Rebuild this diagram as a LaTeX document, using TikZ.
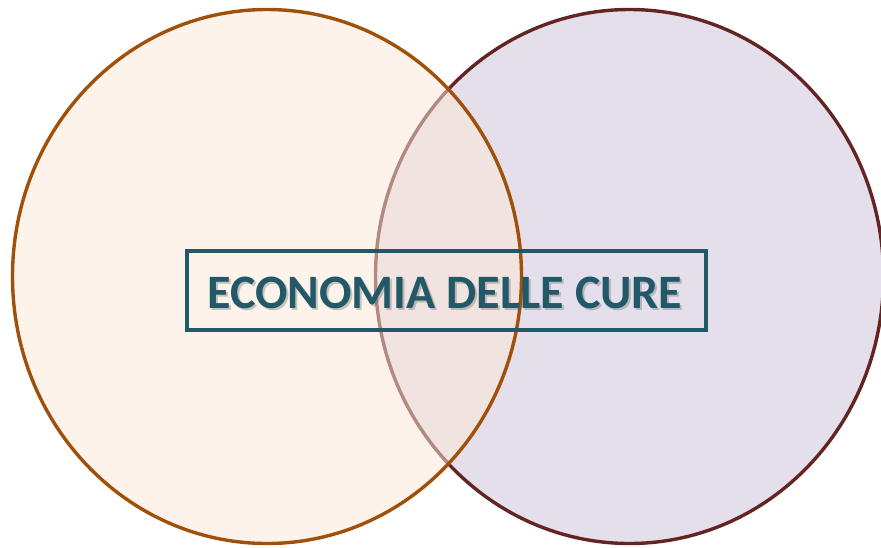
\documentclass[tikz,border=0pt]{standalone}
\usepackage{fontspec}
\setmainfont{Carlito}
\usetikzlibrary{positioning}

\definecolor{orangeline}{HTML}{A0500A}
\definecolor{orangefill}{HTML}{FBE8D7}
\definecolor{plumline}{HTML}{632523}
\definecolor{plumfill}{HTML}{E5DEEB}
\definecolor{tealtext}{HTML}{215968}

\tikzset{
  ring/.style={line width=3.4pt},
  label text/.style={font=\fontsize{48}{57}\selectfont\bfseries, inner sep=0pt}
}

\begin{document}
\begin{tikzpicture}[x=1pt,y=-1pt]
  \useasboundingbox (0,0) rectangle (881,547);

% right set first, left set over it
\draw [ring, color=plumline, fill=plumfill] (629.5,276.5) ellipse (254 and 267);
\draw [ring, color=orangeline, fill=orangefill, fill opacity=0.52] (267,276.5) ellipse (254.5 and 267);

\node [draw=tealtext, line width=3.2pt, minimum width=519pt, minimum height=79pt,
       inner sep=0pt] (box) at (446.5,290.5) {};
\node [label text, text=black!60, text opacity=0.35, xshift=2pt, yshift=-2.5pt]
      (shadow) at (445,292.5) {ECONOMIA DELLE CURE};
\node [label text, text=tealtext] (title) at (445,292.5) {ECONOMIA DELLE CURE};
\end{tikzpicture}
\end{document}
